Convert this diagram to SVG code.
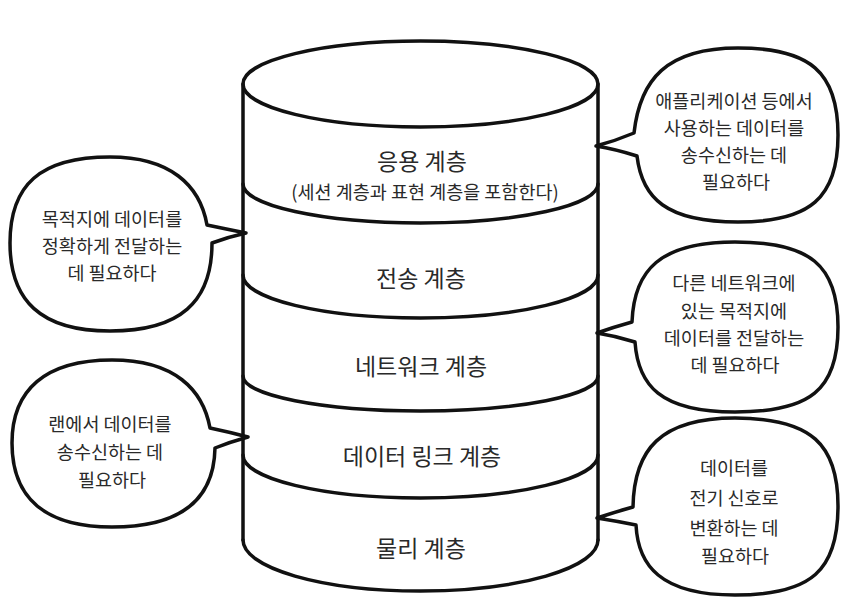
<svg xmlns="http://www.w3.org/2000/svg" width="857" height="613" viewBox="0 0 857 613">
  <style>
    .ln { fill: none; stroke: #111; stroke-width: 3.5; stroke-linecap: round; stroke-linejoin: round; }
    .bub { fill: #fff; stroke: #111; stroke-width: 3.5; stroke-linejoin: round; }
    .lbl { font-family: "Noto Sans CJK KR", "Noto Sans", sans-serif; font-size: 23px; fill: #2a2a2a; text-anchor: middle; }
    .sub { font-family: "Noto Sans CJK KR", "Noto Sans", sans-serif; font-size: 18.5px; fill: #2a2a2a; text-anchor: middle; }
    .bt { font-family: "Noto Sans CJK KR", "Noto Sans", sans-serif; font-size: 18.5px; fill: #2a2a2a; text-anchor: middle; }
  </style>
  <rect width="857" height="613" fill="#fff"/>

  <g id="cylinder">
    <path class="ln" d="M243 84 L243 540 M598 84 L598 540"/>
    <ellipse class="ln" cx="420.5" cy="84" rx="177.5" ry="43"/>
    <path class="ln" d="M243 184 A177.5 39 0 0 0 598 184"/>
    <path class="ln" d="M243 275 A177.5 43 0 0 0 598 275"/>
    <path class="ln" d="M243 376 A177.5 35 0 0 0 598 376"/>
    <path class="ln" d="M243 455 A177.5 43 0 0 0 598 455"/>
    <path class="ln" d="M243 540 A177.5 51 0 0 0 598 540"/>
  </g>

  <g id="layer-application">
    <text class="lbl" x="422" y="170">응용 계층</text>
    <text class="sub" x="425" y="199">(세션 계층과 표현 계층을 포함한다)</text>
  </g>
  <g id="layer-transport"><text class="lbl" x="421" y="287">전송 계층</text></g>
  <g id="layer-network"><text class="lbl" x="421" y="375">네트워크 계층</text></g>
  <g id="layer-datalink"><text class="lbl" x="422" y="465">데이터 링크 계층</text></g>
  <g id="layer-physical"><text class="lbl" x="421" y="557">물리 계층</text></g>

  <g id="connectors">
    <g id="bubble-app">
      <path class="bub" d="M738 48 C810 48 838 72 838 135 C838 198 810 222 738 222 C666 222 642 198 637 156 Q615 149 596 146 Q615 141 634 133 C640 80 666 48 738 48 Z"/>
      <text class="bt" x="734" y="108">애플리케이션 등에서</text>
      <text class="bt" x="734" y="135">사용하는 데이터를</text>
      <text class="bt" x="734" y="162">송수신하는 데</text>
      <text class="bt" x="736" y="189">필요하다</text>
    </g>
    <g id="bubble-transport">
      <path class="bub" d="M110 157 C170 157 200 185 207 225 Q226 229 246 233 Q228 237 212 243 C212 302 180 331 110 331 C40 331 10 300 10 243 C10 185 40 157 110 157 Z"/>
      <text class="bt" x="112" y="226">목적지에 데이터를</text>
      <text class="bt" x="112" y="253">정확하게 전달하는</text>
      <text class="bt" x="112" y="280">데 필요하다</text>
    </g>
    <g id="bubble-network">
      <path class="bub" d="M735 242 C810 242 838 265 838 327 C838 390 810 412 735 412 C660 412 638 385 635 342 Q616 336 597 333 Q614 327 632 322 C634 270 660 242 735 242 Z"/>
      <text class="bt" x="734" y="290">다른 네트워크에</text>
      <text class="bt" x="734" y="318">있는 목적지에</text>
      <text class="bt" x="734" y="345">데이터를 전달하는</text>
      <text class="bt" x="735" y="372">데 필요하다</text>
    </g>
    <g id="bubble-datalink">
      <path class="bub" d="M112 360 C175 360 203 390 210 428 Q229 432 248 437 Q230 442 215 448 C214 500 180 527 112 527 C45 527 12 498 12 443 C12 390 45 360 112 360 Z"/>
      <text class="bt" x="110" y="431">랜에서 데이터를</text>
      <text class="bt" x="110" y="459">송수신하는 데</text>
      <text class="bt" x="112" y="487">필요하다</text>
    </g>
    <g id="bubble-physical">
      <path class="bub" d="M735 418 C812 418 838 445 838 506 C838 570 812 595 735 595 C660 595 638 565 636 525 Q616 521 597 518 Q615 512 633 507 C634 450 660 418 735 418 Z"/>
      <text class="bt" x="734" y="475">데이터를</text>
      <text class="bt" x="734" y="505">전기 신호로</text>
      <text class="bt" x="734" y="535">변환하는 데</text>
      <text class="bt" x="735" y="563">필요하다</text>
    </g>
  </g>
</svg>
